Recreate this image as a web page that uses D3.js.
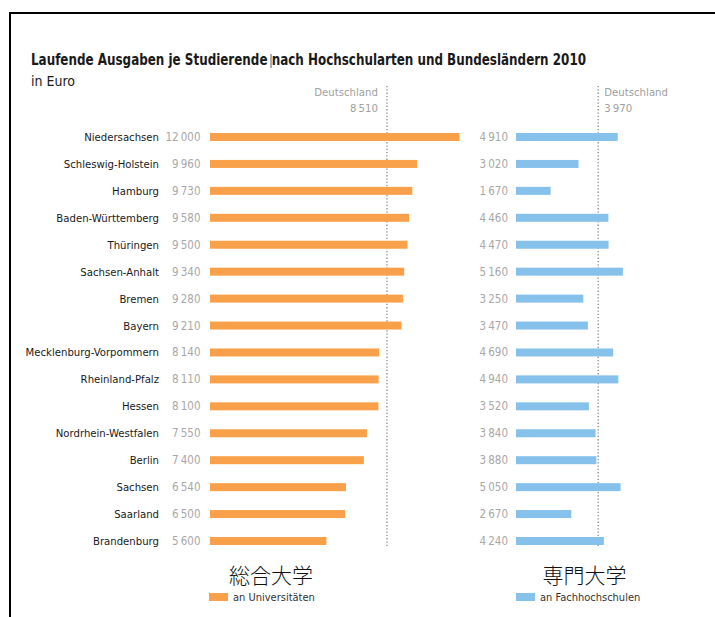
<!DOCTYPE html>
<html><head><meta charset="utf-8">
<script src="https://cdn.jsdelivr.net/npm/d3@7"></script>
<style>
html,body{margin:0;padding:0;background:#fff;}
svg{display:block;}
.cond{font-family:"Liberation Sans Narrow","DejaVu Sans Condensed","Roboto Condensed","Liberation Sans",sans-serif;}
</style></head>
<body>
<svg id="chart" width="715" height="617"></svg>
<script>
const states = ["Niedersachsen","Schleswig-Holstein","Hamburg","Baden-Württemberg","Thüringen","Sachsen-Anhalt","Bremen","Bayern","Mecklenburg-Vorpommern","Rheinland-Pfalz","Hessen","Nordrhein-Westfalen","Berlin","Sachsen","Saarland","Brandenburg"];
const universities = [12000,9960,9730,9580,9500,9340,9280,9210,8140,8110,8100,7550,7400,6540,6500,5600];
const fachhochschulen = [4910,3020,1670,4460,4470,5160,3250,3470,4690,4940,3520,3840,3880,5050,2670,4240];
const averages = [8510, 3970];
const seriesNames = ["an Universitäten","an Fachhochschulen"];
const seriesTitles = ["総合大学","専門大学"];
const colors = ["#F9A14A","#86C1EB"];

const svg = d3.select("#chart");
const fmt = v => {
  const s = String(v);
  return s.length > 3 ? s.slice(0, s.length-3) + "\u2009" + s.slice(s.length-3) : s;
};

// frame
svg.append("path").attr("d","M10,720 L10,13 L720,13").attr("fill","none").attr("stroke","#000").attr("stroke-width",2);

// title
svg.append("text").attr("class","cond").attr("x",31).attr("y",65)
  .attr("font-size",15).attr("font-weight","bold").attr("fill","#1a1a1a")
  .attr("textLength",555).attr("lengthAdjust","spacingAndGlyphs")
  .text("Laufende Ausgaben je Studierende nach Hochschularten und Bundesländern 2010");
svg.append("line").attr("x1",271).attr("x2",271).attr("y1",54).attr("y2",68).attr("stroke","#333").attr("stroke-width",0.8);
svg.append("text").attr("class","cond").attr("x",31).attr("y",86)
  .attr("font-size",14).attr("fill","#1a1a1a").text("in Euro");

const y = d3.scalePoint().domain(states).range([137, 541]);
const barH = 8;
const xL = d3.scaleLinear().domain([0, 12000]).range([210, 459.5]);
const xR = d3.scaleLinear().domain([0, 4910]).range([516, 617.7]);

const rows = states.map((s,i)=>({s, u:universities[i], f:fachhochschulen[i]}));

// labels
svg.append("g").selectAll("text").data(rows).join("text")
  .attr("class","cond").attr("x",159).attr("y",d=>y(d.s)+4)
  .attr("text-anchor","end").attr("font-size",11.25).attr("fill","#1a1a1a")
  .text(d=>d.s);

// left values
svg.append("g").selectAll("text").data(rows).join("text")
  .attr("class","cond").attr("x",200.5).attr("y",d=>y(d.s)+4)
  .attr("text-anchor","end").attr("font-size",11.5).attr("fill","#a8a8a8")
  .text(d=>fmt(d.u));
// right values
svg.append("g").selectAll("text").data(rows).join("text")
  .attr("class","cond").attr("x",508).attr("y",d=>y(d.s)+4)
  .attr("text-anchor","end").attr("font-size",11.5).attr("fill","#a8a8a8")
  .text(d=>fmt(d.f));

// dotted average lines
const avgX = [xL(averages[0]), xR(averages[1])];
avgX.forEach(x=>{
  svg.append("line").attr("x1",x).attr("x2",x).attr("y1",86).attr("y2",546)
    .attr("stroke","#9a9a9a").attr("stroke-width",1.5).attr("stroke-dasharray","1.3,2");
});

// bars
svg.append("g").selectAll("rect").data(rows).join("rect")
  .attr("x",xL(0)).attr("y",d=>y(d.s)-barH/2).attr("width",d=>xL(d.u)-xL(0)).attr("height",barH)
  .attr("fill",colors[0]);
svg.append("g").selectAll("rect").data(rows).join("rect")
  .attr("x",xR(0)).attr("y",d=>y(d.s)-barH/2).attr("width",d=>xR(d.f)-xR(0)).attr("height",barH)
  .attr("fill",colors[1]);

// Deutschland labels
svg.append("text").attr("class","cond").attr("x",avgX[0]-9).attr("y",96).attr("text-anchor","end")
  .attr("font-size",11.3).attr("fill","#a0a0a0").text("Deutschland");
svg.append("text").attr("class","cond").attr("x",avgX[0]-9).attr("y",112).attr("text-anchor","end")
  .attr("font-size",11.3).attr("fill","#a0a0a0").text(fmt(averages[0]));
svg.append("text").attr("class","cond").attr("x",avgX[1]+6).attr("y",96).attr("text-anchor","start")
  .attr("font-size",11.3).attr("fill","#a0a0a0").text("Deutschland");
svg.append("text").attr("class","cond").attr("x",avgX[1]+6).attr("y",112).attr("text-anchor","start")
  .attr("font-size",11.3).attr("fill","#a0a0a0").text(fmt(averages[1]));

// CJK titles
const titleCx = [271, 584.5];
seriesTitles.forEach((t,i)=>{
  svg.append("text").attr("x",titleCx[i]).attr("y",583).attr("text-anchor","middle")
    .attr("font-family","'Noto Sans CJK JP',sans-serif").attr("font-weight",300)
    .attr("font-size",21).attr("fill","#111").text(t);
});

// legend
const legX = [209, 516];
seriesNames.forEach((n,i)=>{
  svg.append("rect").attr("x",legX[i]).attr("y",593).attr("width",19).attr("height",8).attr("fill",colors[i]);
  svg.append("text").attr("class","cond").attr("x",legX[i]+24).attr("y",601)
    .attr("font-size",11).attr("fill","#333").text(n);
});
</script>
</body></html>
